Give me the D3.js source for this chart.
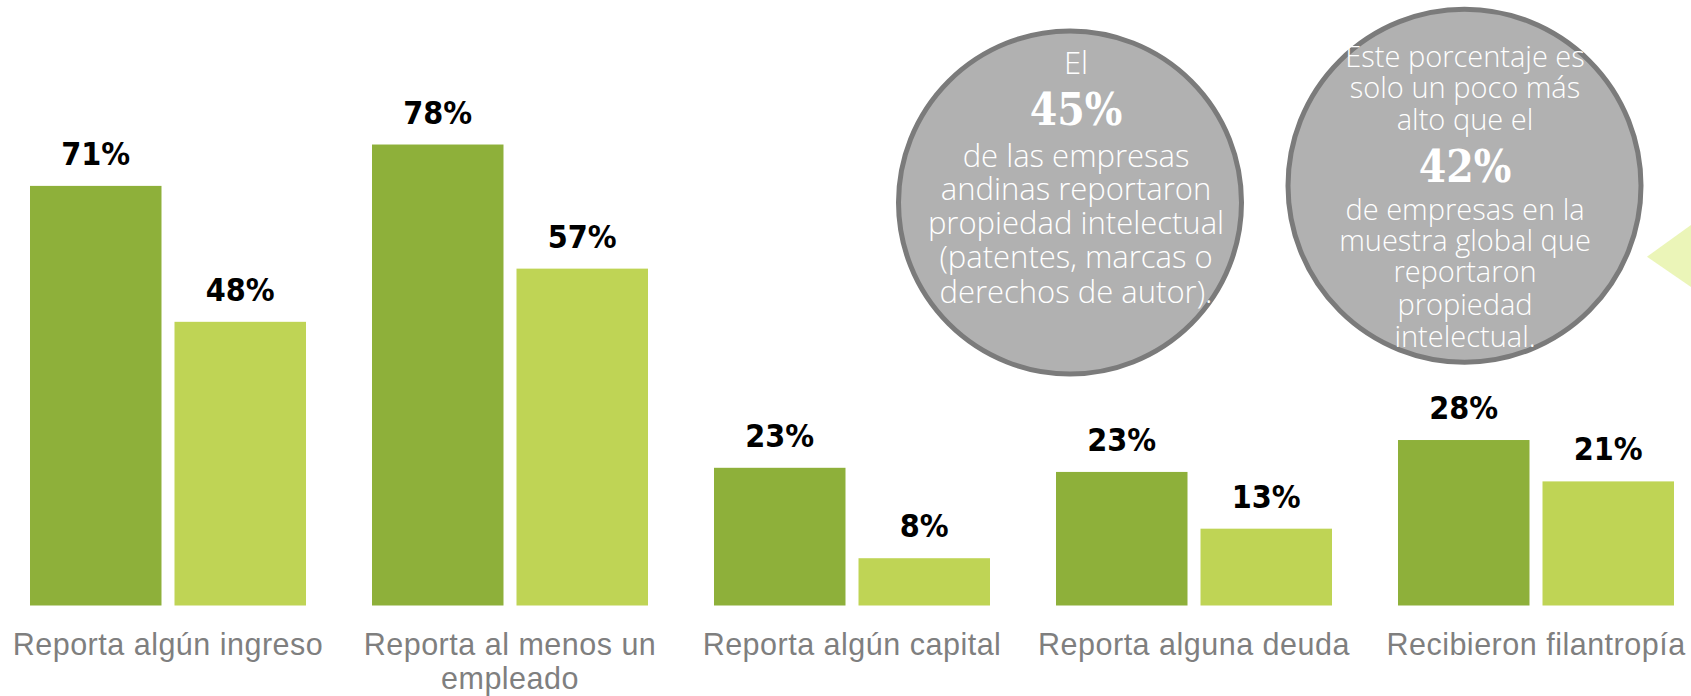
<!DOCTYPE html>
<html>
<head>
<meta charset="utf-8">
<script src="https://cdn.jsdelivr.net/npm/d3@7"></script>
<style>
  html, body { margin: 0; padding: 0; background: #fff; }
  svg { display: block; }
</style>
</head>
<body>
<div id="chart"></div>
<script>
// data
var categories = ["Reporta algún ingreso", "Reporta al menos un empleado", "Reporta algún capital", "Reporta alguna deuda", "Recibieron filantropía"];
var categoryLines = [["Reporta algún ingreso"], ["Reporta al menos un", "empleado"], ["Reporta algún capital"], ["Reporta alguna deuda"], ["Recibieron filantropía"]];
var series = ["andina", "global"];
var andinaValues = [71, 78, 23.3, 22.6, 28];
var globalValues = [48, 57, 8, 13, 21];
var seriesColors = ["#8eb03a", "#bfd455"];

// callout bubbles
var bubble1Lines = ["El", "45%", "de las empresas", "andinas reportaron", "propiedad intelectual", "(patentes, marcas o", "derechos de autor)."];
var bubble2Lines = ["Este porcentaje es", "solo un poco más", "alto que el", "42%", "de empresas en la", "muestra global que", "reportaron", "propiedad", "intelectual."];

var width = 1691, height = 696;

var svg = d3.select("#chart").append("svg")
    .attr("width", width)
    .attr("height", height);

var x0 = d3.scaleBand()
    .domain(categories)
    .range([30, 1674])
    .paddingInner(0.193);

var x1 = d3.scaleBand()
    .domain(series)
    .range([0, x0.bandwidth()])
    .paddingInner(0.09);

var y = d3.scaleLinear()
    .domain([0, 100])
    .range([605.5, 14.5]);

var color = d3.scaleOrdinal().domain(series).range(seriesColors);
var fmt = d3.format(".0f");

var data = categories.map(function(c, i) {
  return {cat: c, lines: categoryLines[i], values: [
    {key: "andina", value: andinaValues[i]},
    {key: "global", value: globalValues[i]}
  ]};
});

var group = svg.append("g").selectAll("g.grp")
    .data(data)
  .enter().append("g")
    .attr("class", "grp")
    .attr("transform", function(d) { return "translate(" + x0(d.cat) + ",0)"; });

group.selectAll("rect")
    .data(function(d) { return d.values; })
  .enter().append("rect")
    .attr("x", function(d) { return x1(d.key); })
    .attr("y", function(d) { return y(d.value); })
    .attr("width", x1.bandwidth())
    .attr("height", function(d) { return y(0) - y(d.value); })
    .attr("fill", function(d) { return color(d.key); });

group.selectAll("text.val")
    .data(function(d) { return d.values; })
  .enter().append("text")
    .attr("class", "val")
    .attr("x", function(d) { return x1(d.key) + x1.bandwidth() / 2; })
    .attr("y", function(d) { return y(d.value) - 21; })
    .attr("text-anchor", "middle")
    .style("font-family", "'DejaVu Sans Condensed', 'DejaVu Sans', sans-serif")
    .style("font-stretch", "condensed")
    .style("font-weight", "bold")
    .style("font-size", "32px")
    .style("fill", "#000")
    .text(function(d) { return fmt(d.value) + "%"; });

// category labels under the bars
var xAxis = d3.axisBottom(x0).tickSize(0).tickFormat("");
var axisG = svg.append("g")
    .attr("class", "x axis")
    .attr("transform", "translate(0," + y(0) + ")")
    .call(xAxis);
axisG.select(".domain").remove();

axisG.selectAll(".tick").each(function(d, i) {
  var t = d3.select(this).append("text")
      .attr("text-anchor", "middle")
      .attr("y", 49)
      .style("font-family", "'Liberation Sans', Arial, sans-serif")
      .style("font-size", "30.5px")
      .style("letter-spacing", "0.5px")
      .style("fill", "#7f7f7f");
  categoryLines[i].forEach(function(line, j) {
    t.append("tspan").attr("x", 0).attr("dy", j === 0 ? 0 : 34).text(line);
  });
});

// pale arrow at the right edge
svg.append("path")
    .attr("d", d3.line()([[1647, 256.7], [1691, 225], [1691, 287]]) + "Z")
    .attr("fill", "#ebf5b8");

function bubble(cx, cy, r, tx, lines, ys, fs) {
  var g = svg.append("g");
  g.append("circle")
      .attr("cx", cx)
      .attr("cy", cy)
      .attr("r", r)
      .attr("fill", "#b1b1b1")
      .attr("stroke", "#7b7b7b")
      .attr("stroke-width", 5);
  g.selectAll("text")
      .data(lines)
    .enter().append("text")
      .attr("x", tx)
      .attr("y", function(d, i) { return ys[i]; })
      .attr("text-anchor", "middle")
      .style("fill", "#fff")
      .each(function(d) {
        var big = /%$/.test(d);
        d3.select(this)
            .style("font-family", big ? "'DejaVu Serif Condensed', 'DejaVu Serif', serif" : "'Open Sans', sans-serif")
            .style("font-stretch", big ? "condensed" : "normal")
            .style("font-weight", big ? "bold" : "300")
            .style("font-size", big ? "44px" : fs + "px");
      })
      .text(function(d) { return d; });
}

bubble(1070, 202.5, 171.5, 1076, bubble1Lines, [74, 125, 166.7, 200, 233.5, 268, 303], 31);
bubble(1464.5, 185.7, 176.5, 1465, bubble2Lines, [66.7, 98.3, 130, 181.7, 220, 250.7, 281.7, 315, 346.7], 29);
</script>
</body>
</html>
